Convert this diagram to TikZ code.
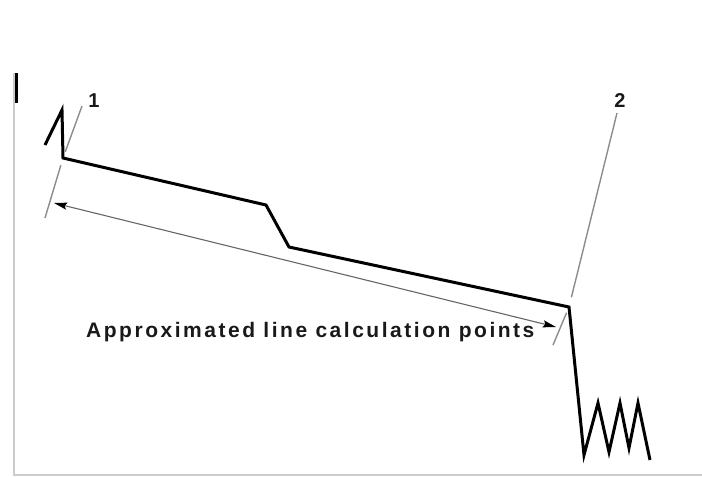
\documentclass[tikz,border=0pt]{standalone}
\usepackage{fontspec}
\setmainfont{Liberation Sans}
\usetikzlibrary{calc,arrows.meta}

\begin{document}
\begin{tikzpicture}[x=1pt,y=-1pt,
  profile/.style={line width=3pt,line join=miter},
  leader/.style={line width=1.4pt,draw=black!45},
  axis/.style={line width=1.5pt,draw=black!20},
  dimline/.style={line width=1.1pt,draw=black!60,{Stealth[length=13pt,width=7pt,inset=2pt,black]}-{Stealth[length=13pt,width=7pt,inset=2pt,black]}},
  lbl/.style={font=\fontsize{20}{20}\bfseries\selectfont,text=black!90,inner sep=0pt},
  caption/.style={font=\fontsize{21}{21}\bfseries\addfontfeatures{LetterSpace=12}\selectfont,text=black!90,inner sep=0pt}]
  \useasboundingbox (0,0) rectangle (702,477);
  \coordinate (O) at (14,475);
  \coordinate (Ytop) at (14,73);
  \coordinate (Xend) at (702,475);
  \coordinate (P0) at (45,145);
  \coordinate (P1) at (62,110);
  \coordinate (A) at (63,158);
  \coordinate (K1) at (266,205);
  \coordinate (K2) at (289,247);
  \coordinate (B) at (569,307);
  \coordinate (Z1) at (584,455);
  \coordinate (Z2) at (598,403);
  \coordinate (Z3) at (609,452);
  \coordinate (Z4) at (620,403);
  \coordinate (Z5) at (629,448);
  \coordinate (Z6) at (638,403);
  \coordinate (Z7) at (650,460);
  \coordinate (L1) at (82,106);
  \coordinate (L2) at (617,113);
  \coordinate (Aext) at (45,218);
  \coordinate (Bext) at (553,345);
  \coordinate (Ltip) at (54,203);
  \coordinate (Rtip) at (556,327);
  \draw[axis] (Ytop)--(O)--(Xend);
  \draw[line width=3pt] (16,73)--(16,103);
  \draw[profile] (P0)--(P1)--(A)--(K1)--(K2)--(B)--(Z1)--(Z2)--(Z3)--(Z4)--(Z5)--(Z6)--(Z7);
  \node[lbl,anchor=base] (n1) at (94,107) {1};
  \node[lbl,anchor=base] (n2) at (620,107) {2};
  \draw[leader] (L1)--($(A)!0.12!(L1)$);
  \draw[leader] ($(A)!0.12!(Aext)$)--(Aext);
  \draw[leader] (L2)--($(B)!0.05!(L2)$);
  \draw[leader] ($(B)!0.15!(Bext)$)--(Bext);
  \draw[dimline] (Ltip)--(Rtip);
  \node[caption,anchor=base west] (txt) at (86,337) {Approximated line calculation points};
\end{tikzpicture}
\end{document}
